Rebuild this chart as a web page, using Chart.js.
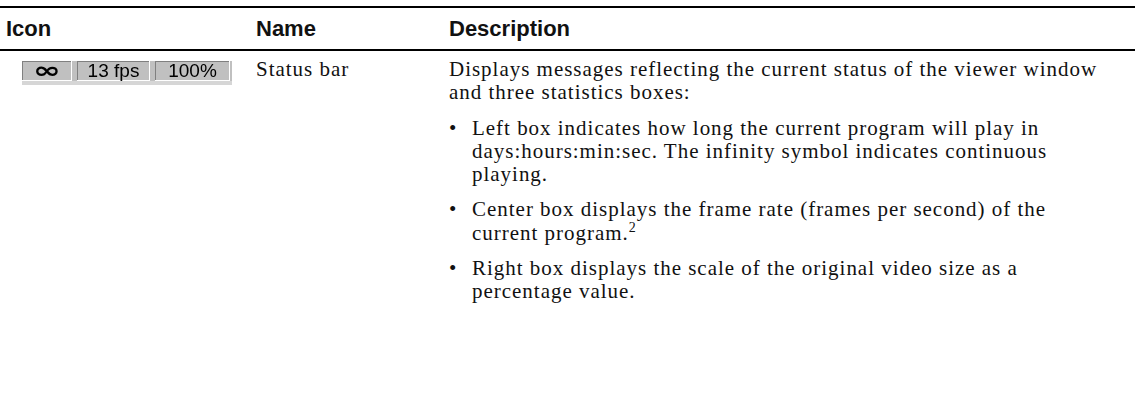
<!DOCTYPE html>
<html>
<head>
<meta charset="utf-8">
<script src="https://cdn.jsdelivr.net/npm/chart.js@4/dist/chart.umd.min.js"></script>
<style>
  html, body { margin: 0; padding: 0; background: #fff; }
  body { width: 1135px; height: 396px; position: relative; overflow: hidden; color: #111; }
  .rule { position: absolute; left: 0; width: 1135px; height: 2px; background: #000; }
  .head { position: absolute; top: 16px; font: bold 22px "Liberation Sans", Arial, sans-serif; }
  .body { position: absolute; top: 58px; font: 21px/23.3px "Liberation Serif", "Times New Roman", serif; letter-spacing: 0.98px; }
  .para { margin: 0; }
  .para + .para { margin-top: 12px; }
  .bullet { position: relative; padding-left: 23px; }
  .bullet::before { content: "\2022"; position: absolute; left: 0; }
  sup { font-size: 14px; line-height: 0; vertical-align: 8px; }
  #icon { position: absolute; left: 22px; top: 61px; }
  #strip { position: absolute; left: 22px; top: 81px; width: 210px; height: 4px; background: #d6d6d6; }
</style>
</head>
<body>
<div class="rule" style="top:6px"></div>
<div class="rule" style="top:49px"></div>

<div id="heads"></div>
<div id="rows"></div>

<canvas id="icon" width="210" height="20"></canvas>
<div id="strip"></div>

<script>
// table content
const headers = ["Icon", "Name", "Description"];
const itemName = "Status bar";
const introLines = ["Displays messages reflecting the current status of the viewer window", "and three statistics boxes:"];
const bulletLines = [
  ["Left box indicates how long the current program will play in", "days:hours:min:sec. The infinity symbol indicates continuous", "playing."],
  ["Center box displays the frame rate (frames per second) of the", "current program.<sup>2</sup>"],
  ["Right box displays the scale of the original video size as a", "percentage value."]
];

// status bar icon: three boxes and their widths in the icon
const boxLabels = ["\u221E", "13 fps", "100%"];
const boxWidths = [50, 73, 75];

const colX = [6, 256, 449];

const heads = document.getElementById("heads");
headers.forEach((h, i) => {
  const d = document.createElement("div");
  d.className = "head";
  d.style.left = colX[i] + "px";
  d.textContent = h;
  heads.appendChild(d);
});

const rows = document.getElementById("rows");
const nameDiv = document.createElement("div");
nameDiv.className = "body";
nameDiv.style.left = colX[1] + "px";
nameDiv.textContent = itemName;
rows.appendChild(nameDiv);

const desc = document.createElement("div");
desc.className = "body";
desc.style.left = colX[2] + "px";
let html = `<p class="para">${introLines.join("<br>")}</p>`;
bulletLines.forEach((lines) => {
  html += `<p class="para bullet">${lines.join("<br>")}</p>`;
});
desc.innerHTML = html;
rows.appendChild(desc);

// the icon is a stacked horizontal bar, one segment per box
const gap = 5;
const datasets = [];
boxWidths.forEach((w, i) => {
  if (i > 0) datasets.push({ data: [gap], backgroundColor: "rgba(0,0,0,0)", spacer: true });
  datasets.push({ data: [w], backgroundColor: "#c0c0c0", label: boxLabels[i] });
});

const bevel = {
  id: "bevel",
  afterDatasetsDraw(chart) {
    const ctx = chart.ctx;
    chart.data.datasets.forEach((ds, i) => {
      if (ds.spacer) return;
      const el = chart.getDatasetMeta(i).data[0];
      const left = Math.round(el.base), right = Math.round(el.x);
      const top = Math.round(el.y - el.height / 2), bottom = Math.round(el.y + el.height / 2);
      ctx.save();
      ctx.fillStyle = "#808080";
      ctx.fillRect(left, top, right - left, 1);
      ctx.fillRect(left, top, 1, bottom - top);
      ctx.fillStyle = "#ffffff";
      ctx.fillRect(left, bottom - 1, right - left, 1);
      ctx.fillRect(right - 1, top, 1, bottom - top);
      ctx.fillStyle = "#000";
      ctx.textBaseline = "middle";
      ctx.textAlign = "center";
      const cx = (left + right) / 2;
      if (ds.label === "\u221E") {
        ctx.translate(cx, el.y + 1);
        ctx.scale(1.45, 1);
        ctx.font = "bold 23px 'DejaVu Sans'";
        ctx.fillText(ds.label, 0, 0);
      } else {
        ctx.font = "19px 'Liberation Sans', Arial, sans-serif";
        ctx.fillText(ds.label, cx, el.y + 1);
      }
      ctx.restore();
    });
  }
};

new Chart(document.getElementById("icon"), {
  type: "bar",
  data: { labels: [""], datasets },
  options: {
    indexAxis: "y",
    responsive: false,
    animation: false,
    devicePixelRatio: 1,
    layout: { padding: 0 },
    datasets: { bar: { barPercentage: 1, categoryPercentage: 1, borderWidth: 0 } },
    scales: {
      x: { stacked: true, display: false, min: 0, max: 210 },
      y: { stacked: true, display: false }
    },
    plugins: { legend: { display: false }, tooltip: { enabled: false } }
  },
  plugins: [bevel]
});
document.getElementById("icon").style.background = "#c0c0c0";
</script>
</body>
</html>
